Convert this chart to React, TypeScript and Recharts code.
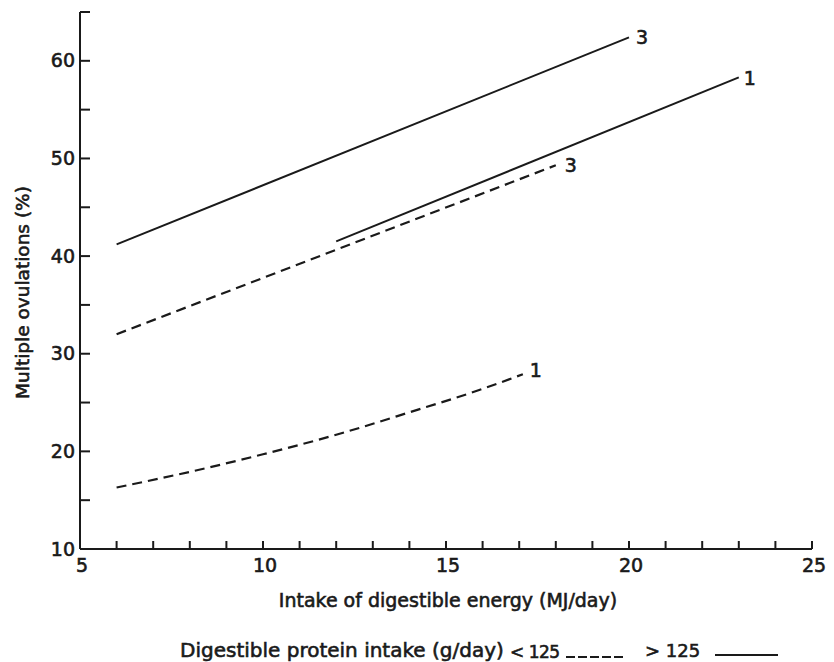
import React from "react";
import { LineChart, Line, XAxis, YAxis } from "recharts";

// Multiple ovulation rate vs intake of digestible energy
const X_TICKS = [5, 6, 7, 8, 9, 10, 11, 12, 13, 14, 15, 16, 17, 18, 19, 20, 21, 22, 23, 24, 25];
const X_LABELED = [5, 10, 15, 20, 25];
const Y_TICKS = [10, 15, 20, 25, 30, 35, 40, 45, 50, 55, 60, 65];
const Y_LABELED = [10, 20, 30, 40, 50, 60];

// protein > 125 g/day (solid)
const high3 = [
  { x: 6, y: 41.2 },
  { x: 20, y: 62.4 },
];
const high1 = [
  { x: 12, y: 41.5 },
  { x: 23, y: 58.3 },
];
// protein < 125 g/day (dashed)
const low3 = [
  { x: 6, y: 32.0 },
  { x: 18, y: 49.3 },
];
const low1 = [
  { x: 6, y: 16.3 },
  { x: 8, y: 17.9 },
  { x: 10, y: 19.7 },
  { x: 12, y: 21.7 },
  { x: 14, y: 24.0 },
  { x: 16, y: 26.4 },
  { x: 17.1, y: 27.9 },
];

const INK = "#1a1a1a";
const FONT = "'DejaVu Sans', sans-serif";
const txt = { fill: INK, stroke: INK, strokeWidth: 0.6, fontFamily: FONT };

function XTick({ x, y, payload }: any) {
  const v = payload.value;
  return (
    <g>
      <line x1={x} y1={y} x2={x} y2={y - 8} stroke={INK} strokeWidth={2} />
      {X_LABELED.includes(v) && (
        <text x={x + 2} y={y + 16} dy="0.35em" textAnchor="middle" fontSize={19} {...txt}>
          {v}
        </text>
      )}
    </g>
  );
}

function YTick({ x, y, payload }: any) {
  const v = payload.value;
  return (
    <g>
      <line x1={x} y1={y} x2={x + 10} y2={y} stroke={INK} strokeWidth={2} />
      {Y_LABELED.includes(v) && (
        <text x={x - 5} y={y} dy="0.35em" textAnchor="end" fontSize={19} {...txt}>
          {v}
        </text>
      )}
    </g>
  );
}

function endLabel(text: string, count: number, dx: number, dy: number) {
  return (props: any) => {
    if (props.index !== count - 1) return null;
    return (
      <text x={props.x + dx} y={props.y + dy} dy="0.35em" textAnchor="middle" fontSize={19} {...txt}>
        {text}
      </text>
    );
  };
}

const legendText: React.CSSProperties = {
  position: "absolute",
  top: 638,
  fontFamily: FONT,
  fontSize: 20,
  color: INK,
  WebkitTextStroke: "0.6px " + INK,
  whiteSpace: "pre",
  lineHeight: "24px",
};

export default function App() {
  return (
    <div style={{ position: "absolute", left: 0, top: 0, width: 834, height: 662, background: "#fff" }}>
      <LineChart width={834} height={662} margin={{ top: 12, right: 22, bottom: 73, left: 20 }}>
        <XAxis
          type="number"
          dataKey="x"
          domain={[5, 25]}
          ticks={X_TICKS}
          interval={0}
          tickSize={0}
          tickMargin={0}
          height={40}
          axisLine={{ stroke: INK, strokeWidth: 2 }}
          tickLine={false}
          tick={<XTick />}
          label={{
            content: ({ viewBox }: any) => (
              <text x={viewBox.x + viewBox.width / 2 + 2} y={viewBox.y + 51} dy="0.35em" textAnchor="middle" fontSize={19} {...txt}>
                Intake of digestible energy (MJ/day)
              </text>
            ),
          }}
        />
        <YAxis
          type="number"
          domain={[10, 65]}
          ticks={Y_TICKS}
          interval={0}
          tickSize={0}
          tickMargin={0}
          width={60}
          axisLine={{ stroke: INK, strokeWidth: 2 }}
          tickLine={false}
          tick={<YTick />}
          label={{
            content: ({ viewBox }: any) => {
              const cx = viewBox.x + 3;
              const cy = viewBox.y + viewBox.height / 2 + 12;
              return (
                <text x={cx} y={cy} dy="0.35em" textAnchor="middle" transform={`rotate(-90 ${cx} ${cy})`} fontSize={18.5} {...txt}>
                  Multiple ovulations (%)
                </text>
              );
            },
          }}
        />
        <Line data={high3} dataKey="y" type="linear" stroke={INK} strokeWidth={2} dot={false} isAnimationActive={false} label={endLabel("3", high3.length, 13, 0)} />
        <Line data={high1} dataKey="y" type="linear" stroke={INK} strokeWidth={2} dot={false} isAnimationActive={false} label={endLabel("1", high1.length, 11, 1)} />
        <Line data={low3} dataKey="y" type="linear" stroke={INK} strokeWidth={2.2} strokeDasharray="10 6" dot={false} isAnimationActive={false} label={endLabel("3", low3.length, 15, 0)} />
        <Line data={low1} dataKey="y" type="monotone" stroke={INK} strokeWidth={2.2} strokeDasharray="10 6" dot={false} isAnimationActive={false} label={endLabel("1", low1.length, 13, -4)} />
      </LineChart>
      <span style={{ ...legendText, left: 180 }}>Digestible protein intake (g/day)</span>
      <span style={{ ...legendText, left: 510, fontSize: 17, letterSpacing: -0.5, top: 640 }}>{"< 125"}</span>
      <svg width={60} height={6} style={{ position: "absolute", left: 566, top: 654 }}>
        <line x1={0} y1={3} x2={60} y2={3} stroke={INK} strokeWidth={2} strokeDasharray="9 3" />
      </svg>
      <span style={{ ...legendText, left: 645, fontSize: 18, top: 639 }}>{"> 125"}</span>
      <svg width={63} height={6} style={{ position: "absolute", left: 715, top: 652 }}>
        <line x1={0} y1={3} x2={63} y2={3} stroke={INK} strokeWidth={2} />
      </svg>
    </div>
  );
}
